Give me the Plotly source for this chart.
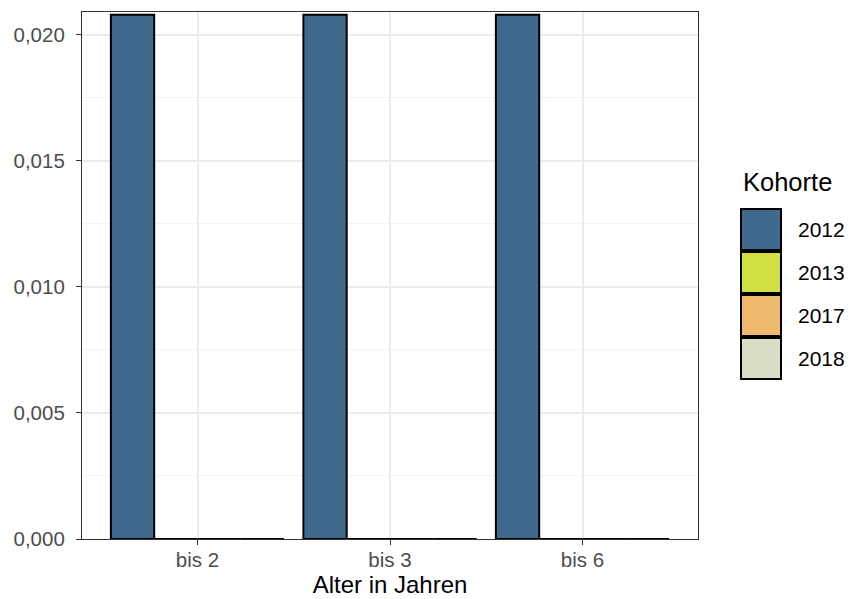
import plotly.graph_objects as go

categories = ["bis 2", "bis 3", "bis 6"]
cohorts = ["2012", "2013", "2017", "2018"]
values_2012 = [0.0208, 0.0208, 0.0208]
values_2013 = [0.0, 0.0, 0.0]
values_2017 = [0.0, 0.0, 0.0]
values_2018 = [0.0, 0.0, 0.0]
series = [values_2012, values_2013, values_2017, values_2018]
colors = ["#40698E", "#D0E040", "#F0BA6C", "#D8DEC6"]
y_ticks = [0.0, 0.005, 0.01, 0.015, 0.02]

W, H = 849, 599
L, R, T, B = 82, 698, 12, 539  # panel edges in pixels

fig = go.Figure()
for name, vals, col in zip(cohorts, series, colors):
    fig.add_trace(go.Bar(
        x=list(range(len(categories))), y=vals, name=name,
        marker=dict(color=col, line=dict(color="black", width=2)),
        showlegend=False,
    ))

font = "Liberation Sans, Arial, sans-serif"
fig.update_layout(
    width=W, height=H,
    margin=dict(l=L, r=W - R, t=T, b=H - B, pad=0, autoexpand=False),
    paper_bgcolor="white", plot_bgcolor="white",
    barmode="group", bargap=0.1, bargroupgap=0,
    separators=",.",
    font=dict(family=font, size=20, color="#4D4D4D"),
    xaxis=dict(
        range=[-0.6, 2.6], tickvals=list(range(len(categories))), ticktext=categories,
        showgrid=True, gridcolor="#EBEBEB", gridwidth=1.5,
        ticks="outside", ticklen=5, tickcolor="#333333", tickwidth=1.2,
        ticklabelstandoff=-3,
        showline=True, linecolor="#333333", linewidth=1.2, mirror=True,
        zeroline=False, automargin=False,
        title=dict(text="Alter in Jahren", font=dict(size=24, color="black", family=font), standoff=2),
        tickfont=dict(size=20.5, color="#4D4D4D"),
    ),
    yaxis=dict(
        range=[0, 0.02091], tickvals=y_ticks, tickformat=".3f",
        showgrid=True, gridcolor="#EBEBEB", gridwidth=1.5,
        minor=dict(showgrid=True, gridcolor="#F2F2F2", gridwidth=0.8, tick0=0.0025, dtick=0.005),
        ticks="outside", ticklen=5, tickcolor="#333333", tickwidth=1.2,
        ticklabelstandoff=7,
        showline=True, linecolor="#333333", linewidth=1.2, mirror=True,
        zeroline=False, automargin=False,
        tickfont=dict(size=20.5, color="#4D4D4D"),
    ),
)

def px_x(p):
    return (p - L) / (R - L)

def px_y(p):
    return (B - p) / (B - T)

# manual ggplot-like legend
fig.add_annotation(x=px_x(741), y=px_y(182), xref="paper", yref="paper", text="Kohorte",
                   showarrow=False, xanchor="left", yanchor="middle",
                   font=dict(size=25.5, color="black", family=font))
key_h = 43
for i, (name, col) in enumerate(zip(cohorts, colors)):
    top = 208 + i * key_h
    fig.add_shape(type="rect", xref="paper", yref="paper",
                  x0=px_x(741), x1=px_x(781), y0=px_y(top + 1), y1=px_y(top + key_h - 1),
                  fillcolor=col, line=dict(color="black", width=2))
    fig.add_annotation(x=px_x(796), y=px_y(top + key_h / 2), xref="paper", yref="paper",
                       text=name, showarrow=False, xanchor="left", yanchor="middle",
                       font=dict(size=21, color="black", family=font))

fig.write_html("out.html", config={"displayModeBar": False})

# remove the default page margin so the figure sits at the window's top-left corner
with open("out.html", "r", encoding="utf-8") as f:
    html = f.read()
html = html.replace("<body>", '<body style="margin:0;padding:0;overflow:hidden">', 1)
with open("out.html", "w", encoding="utf-8") as f:
    f.write(html)
